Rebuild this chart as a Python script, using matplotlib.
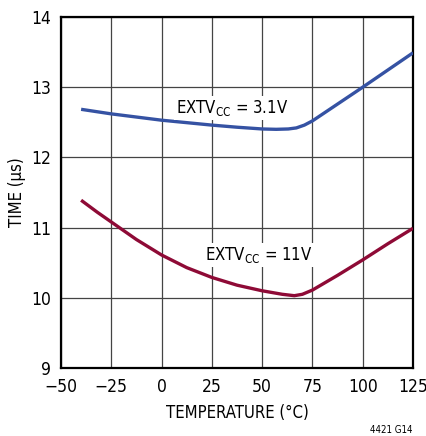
import matplotlib
matplotlib.use("Agg")
import matplotlib.pyplot as plt
from matplotlib import font_manager

# ============== data (temperature in degC, time in us)
temp_31 = [-40, -25, -12.5, 0, 12.5, 25, 37.5, 50, 57, 63, 67, 71, 75, 87.5, 100, 112.5, 125]
time_31 = [12.685, 12.62, 12.575, 12.53, 12.495, 12.46, 12.43, 12.405, 12.40, 12.405, 12.42,
           12.46, 12.52, 12.76, 13.0, 13.245, 13.49]

temp_11 = [-40, -32, -25, -12.5, 0, 12.5, 25, 37.5, 50, 60, 66, 70, 75, 87.5, 100, 112.5, 125]
time_11 = [11.39, 11.22, 11.08, 10.83, 10.61, 10.43, 10.29, 10.18, 10.10, 10.05, 10.03, 10.05,
           10.11, 10.32, 10.54, 10.77, 10.99]

xticks = [-50, -25, 0, 25, 50, 75, 100, 125]
xticklabels = ["\u221250", "\u221225", "0", "25", "50", "75", "100", "125"]
yticks = [9, 10, 11, 12, 13, 14]

# ============== fonts: prefer a narrow/condensed sans if one is installed
narrow = [f.name for f in font_manager.fontManager.ttflist
          if 'Narrow' in f.name or 'Condensed' in f.name or f.stretch in ('condensed', 'semi-condensed', 400)]
if narrow:
    plt.rcParams['font.family'] = [narrow[0], 'DejaVu Sans']
else:
    plt.rcParams['font.family'] = ['Liberation Sans', 'DejaVu Sans']
plt.rcParams['font.stretch'] = 'condensed'

fig = plt.figure(figsize=(4.27, 4.36), dpi=100)
ax = fig.add_axes([61/427, 1 - 368/436, 352/427, 351/436])

ax.plot(temp_31, time_31, color='#3552a3', lw=2.4, solid_capstyle='butt', zorder=3)
ax.plot(temp_11, time_11, color='#8e0a36', lw=2.4, solid_capstyle='butt', zorder=3)

ax.set_xlim(-50, 125)
ax.set_ylim(9, 14)
ax.set_xticks(xticks)
ax.set_xticklabels(xticklabels)
ax.set_yticks(yticks)
ax.tick_params(axis='x', length=0, labelsize=12.5, pad=7)
ax.tick_params(axis='y', length=0, labelsize=12.5, pad=7)
ax.grid(True, color='#444444', lw=0.9)
ax.set_axisbelow(True)
for s in ax.spines.values():
    s.set_linewidth(1.6)
    s.set_color('black')

ax.set_xlabel("TEMPERATURE (\u00b0C)", fontsize=12, labelpad=6)
ax.set_ylabel("TIME (\u00b5s)", fontsize=12, labelpad=4)

box = dict(facecolor='white', edgecolor='none', pad=1.5)
ax.text(7, 12.71, "EXTV$_{\\mathregular{CC}}$ = 3.1V", fontsize=12, va='center', ha='left',
        bbox=box, zorder=4)
ax.text(21.5, 10.61, "EXTV$_{\\mathregular{CC}}$ = 11V", fontsize=12, va='center', ha='left',
        bbox=box, zorder=4)

fig.text(413/427, 1 - 430/436, "4421 G14", fontsize=7, ha='right', va='center')

fig.savefig("out.png", dpi=100)
